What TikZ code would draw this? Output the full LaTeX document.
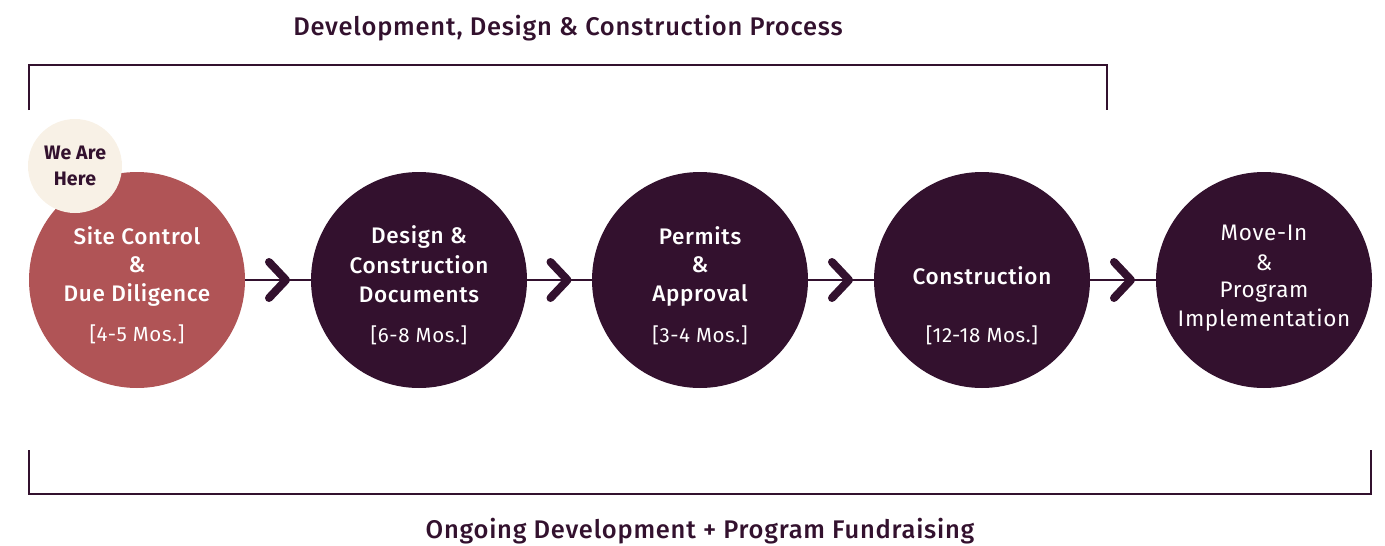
\documentclass[tikz,border=0pt]{standalone}
\usepackage{fontspec}
\setmainfont{Fira Sans}[BoldFont={Fira Sans Medium}, LetterSpace=3]
\newfontfamily\heavyfont{Fira Sans Bold}[LetterSpace=1]
\usetikzlibrary{calc}
\definecolor{plum}{HTML}{33112E}
\definecolor{rose}{HTML}{B05456}
\definecolor{cream}{HTML}{F8F1E6}
\tikzset{
  stage/.style={circle, minimum size=216pt, inner sep=0pt, fill=plum},
  lbl/.style={text=white, font=\bfseries\fontsize{22.5}{22.5}\selectfont, inner sep=0pt, anchor=center},
  lblreg/.style={text=white, font=\fontsize{22.5}{22.5}\selectfont, inner sep=0pt, anchor=center},
  dur/.style={text=white, font=\fontsize{20.5}{20.5}\selectfont, inner sep=0pt, anchor=center},
  conn/.style={draw=plum, line width=1.5pt},
  chev/.style={draw=plum, line width=8pt, line cap=round, line join=round},
  bracket/.style={draw=plum, line width=1.3pt},
  heading/.style={text=plum, font=\bfseries\fontsize{25.5}{25.5}\selectfont, inner sep=0pt}
}
\begin{document}
\begin{tikzpicture}[x=1pt,y=-1pt]
\useasboundingbox (0,0) rectangle (1385,546);
% stages
\node[stage, fill=rose] (c1) at (137,280) {};
\node[stage] (c2) at (419,280) {};
\node[stage] (c3) at (700,280) {};
\node[stage] (c4) at (982,280) {};
\node[stage] (c5) at (1264,280) {};
% connectors
\foreach \a/\b/\m in {c1/c2/m1, c2/c3/m2, c3/c4/m3, c4/c5/m4}{
  \draw[conn] (\a.east) -- (\b.west);
  \coordinate (\m) at ($(\a.east)!0.5!(\b.west)$);
  \draw[chev] ($(\m)+(-9,-18)$) -- ($(\m)+(8,0)$) -- ($(\m)+(-9,18)$);
}
% we are here badge
\node[circle, fill=cream, minimum size=94pt, inner sep=0pt] (here) at (75,166) {};
\node[text=plum, font=\heavyfont\fontsize{19.5}{19.5}\selectfont, inner sep=0pt] (h1) at ($(here.center)+(0,-13)$) {We Are};
\node[text=plum, font=\heavyfont\fontsize{19.5}{19.5}\selectfont, inner sep=0pt] (h2) at ($(here.center)+(0,13)$) {Here};
% stage 1 texts
\node[lbl] (t11) at (137,236) {Site Control};
\node[lbl] (t12) at (137,265) {\&};
\node[lbl] (t13) at (137,295) {Due Diligence};
\node[dur] (t14) at (137,334) {[4-5 Mos.]};
% stage 2
\node[lbl] (t21) at (419,237) {Design \&};
\node[lbl] (t22) at (419,265) {Construction};
\node[lbl] (t23) at (419,295) {Documents};
\node[dur] (t24) at (419,335) {[6-8 Mos.]};
% stage 3
\node[lbl] (t31) at (700,236) {Permits};
\node[lbl] (t32) at (700,265) {\&};
\node[lbl] (t33) at (700,295) {Approval};
\node[dur] (t34) at (700,335) {[3-4 Mos.]};
% stage 4
\node[lbl] (t41) at (982,276) {Construction};
\node[dur] (t44) at (982,335) {[12-18 Mos.]};
% stage 5
\node[lblreg] (t51) at (1264,233) {Move-In};
\node[lblreg] (t52) at (1264,263) {\&};
\node[lblreg] (t53) at (1264,292) {Program};
\node[lblreg] (t54) at (1264,320) {Implementation};
% brackets
\coordinate (b1) at (29,110);
\coordinate (b2) at (29,65);
\coordinate (b3) at (1107,65);
\coordinate (b4) at (1107,110);
\draw[bracket] (b1) -- (b2) -- (b3) -- (b4);
\coordinate (d1) at (29,450);
\coordinate (d2) at (29,494);
\coordinate (d3) at (1371,494);
\coordinate (d4) at (1371,450);
\draw[bracket] (d1) -- (d2) -- (d3) -- (d4);
% headings
\node[heading] (top) at (568,28) {Development, Design \& Construction Process};
\node[heading] (bot) at (700,531) {Ongoing Development + Program Fundraising};
\end{tikzpicture}
\end{document}
